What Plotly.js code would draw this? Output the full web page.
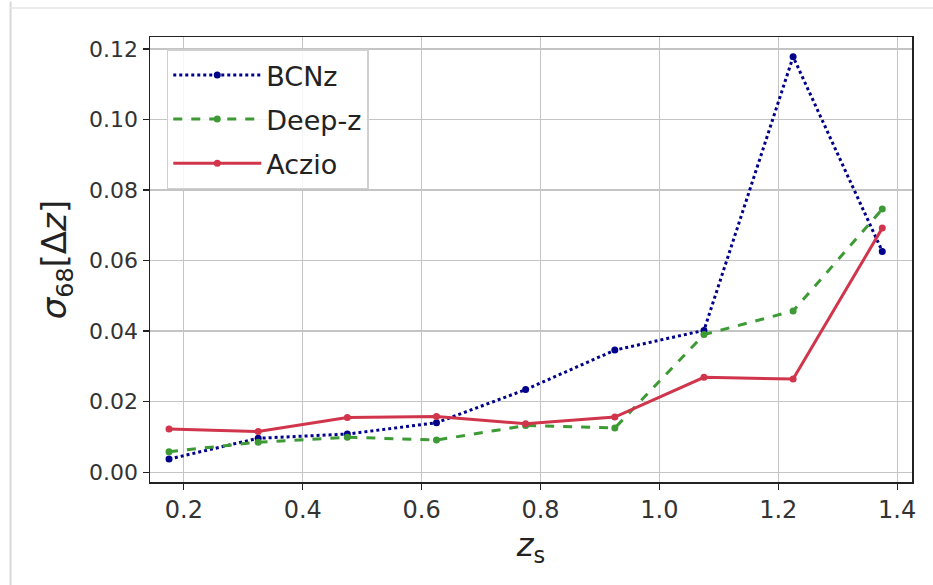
<!DOCTYPE html>
<html>
<head>
<meta charset="utf-8">
<script src="https://cdn.plot.ly/plotly-3.0.1.min.js"></script>
<style>html,body{margin:0;padding:0;background:#fff;}#chart{width:933px;height:585px;}</style>
</head>
<body>
<div id="chart"></div>
<script>
const zs = [0.175, 0.325, 0.475, 0.625, 0.775, 0.925, 1.075, 1.225, 1.375];
const bcnz = [0.0037, 0.0096, 0.0108, 0.0140, 0.0234, 0.0346, 0.0402, 0.1178, 0.0626];
const deepz = [0.0058, 0.0085, 0.0099, 0.0091, 0.0132, 0.0125, 0.0390, 0.0457, 0.0746];
const aczio = [0.0122, 0.0115, 0.0155, 0.0158, 0.0137, 0.0156, 0.0269, 0.0264, 0.0692];
const names = ["BCNz", "Deep-z", "Aczio"];
const xTicks = [0.2, 0.4, 0.6, 0.8, 1.0, 1.2, 1.4];
const xTickText = ["0.2", "0.4", "0.6", "0.8", "1.0", "1.2", "1.4"];
const yTicks = [0.00, 0.02, 0.04, 0.06, 0.08, 0.10, 0.12];
const yTickText = ["0.00", "0.02", "0.04", "0.06", "0.08", "0.10", "0.12"];

const font = "DejaVu Sans, sans-serif";
const traces = [
  {x: zs, y: bcnz, name: names[0], legendgroup: "g1", mode: "lines+markers",
   line: {color: "#00008b", width: 3, dash: "dot"}, marker: {color: "#00008b", size: 7}},
  {x: zs, y: deepz, name: names[1], legendgroup: "g2", mode: "lines+markers",
   line: {color: "#3d9a35", width: 3, dash: "dash"}, marker: {color: "#3d9a35", size: 7}},
  {x: zs, y: aczio, name: names[2], legendgroup: "g3", mode: "lines+markers",
   line: {color: "#d0354b", width: 3}, marker: {color: "#d0354b", size: 7}}
];
const axisCommon = {
  showline: true, linecolor: "#222", linewidth: 1.5, mirror: true,
  ticks: "outside", ticklen: 6, tickcolor: "#222", tickwidth: 1.2,
  showgrid: true, gridcolor: "#c4c4c4", gridwidth: 1.2, zeroline: false
};
const layout = {
  width: 933, height: 585,
  margin: {l: 150, r: 21, t: 37, b: 103},
  paper_bgcolor: "#fff", plot_bgcolor: "#fff",
  showlegend: true,
  legend: {x: 0.022, y: 0.972, xanchor: "left", yanchor: "top", traceorder: "grouped",
    bgcolor: "rgba(255,255,255,0.85)", bordercolor: "#d0d0d0", borderwidth: 1.5,
    font: {family: font, size: 27, color: "#222"}, itemwidth: 88, tracegroupgap: 6},
  xaxis: Object.assign({}, axisCommon, {range: [0.143, 1.425], tickvals: xTicks, ticktext: xTickText,
    tickfont: {family: font, size: 24, color: "#333"},
    title: {text: "<i>z</i><sub>s</sub>", font: {family: font, size: 32, color: "#222"}, standoff: 10}}),
  yaxis: Object.assign({}, axisCommon, {range: [-0.0028, 0.1234], tickvals: yTicks, ticktext: yTickText,
    tickfont: {family: font, size: 22, color: "#333"},
    title: {text: "<i>σ</i><sub>68</sub>[Δ<i>z</i>]", font: {family: font, size: 34, color: "#222"}, standoff: 12}}),
  shapes: [
    {type: "line", xref: "paper", yref: "paper", x0: -0.183, x1: -0.183, y0: -0.26, y1: 1.08, line: {color: "#d8d8d8", width: 2}},
    {type: "line", xref: "paper", yref: "paper", x0: -0.183, x1: 1.03, y0: 1.065, y1: 1.065, line: {color: "#ececec", width: 2}}
  ]
};
Plotly.newPlot("chart", traces, layout, {displayModeBar: false, staticPlot: true});
</script>
</body>
</html>
